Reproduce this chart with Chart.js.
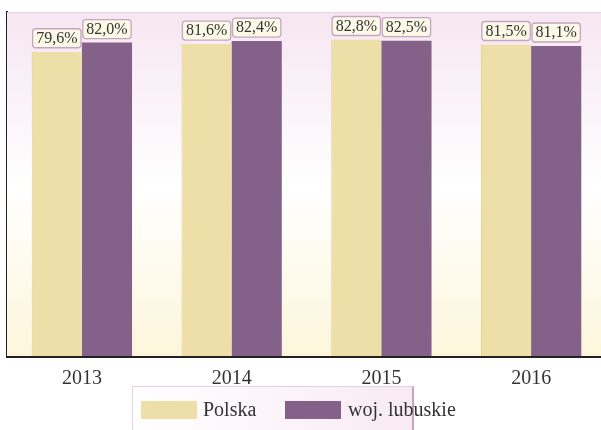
<!DOCTYPE html>
<html>
<head>
<meta charset="utf-8">
<script src="https://cdn.jsdelivr.net/npm/chart.js@4.4.1/dist/chart.umd.min.js"></script>
<style>
  html, body { margin: 0; padding: 0; background: #fff; overflow: hidden; }
  #wrap { position: relative; width: 601px; height: 430px; overflow: hidden; }
  #chart { position: absolute; left: 0; top: 0; }
  .legend {
    position: absolute; left: 132px; top: 386px; width: 279px; height: 50px;
    border: 1px solid #e6cfe3; border-right: 2px solid #c8a3c5;
    background: linear-gradient(to right, #ffffff, #f8eaf3);
    font-family: "Liberation Serif", "Times New Roman", serif; font-size: 20px; color: #333;
  }
  .legend .item { position: absolute; top: 14px; height: 18px; }
  .legend .sw { position: absolute; top: 0; width: 56px; height: 18px; }
  .legend .txt { position: absolute; top: -3px; white-space: nowrap; }
</style>
</head>
<body>
<div id="wrap">
  <canvas id="chart" width="606" height="430"></canvas>
  <div class="legend" id="legend"></div>
</div>
<script>
"use strict";

const years = ["2013", "2014", "2015", "2016"];
const polskaValues = [79.6, 81.6, 82.8, 81.5];
const lubuskieValues = [82.0, 82.4, 82.5, 81.1];
const seriesNames = ["Polska", "woj. lubuskie"];
const seriesColors = ["#eedfa9", "#846189"];

const serif = "'Liberation Serif', 'Times New Roman', serif";

// pink -> white -> cream wash behind the bars
const plotBackground = {
  id: "plotBackground",
  beforeDatasetsDraw(chart) {
    const { ctx, chartArea: a } = chart;
    const g = ctx.createLinearGradient(0, a.top, 0, a.bottom);
    g.addColorStop(0, "#f6e6f1");
    g.addColorStop(0.5, "#ffffff");
    g.addColorStop(1, "#fdf6dc");
    ctx.save();
    ctx.fillStyle = g;
    ctx.fillRect(a.left, a.top, a.right - a.left, a.bottom - a.top);
    ctx.strokeStyle = "#e8d2e3";
    ctx.lineWidth = 1;
    ctx.beginPath();
    ctx.moveTo(a.left, a.top + 0.5);
    ctx.lineTo(a.right, a.top + 0.5);
    ctx.stroke();
    ctx.restore();
  },
};

// boxed value label above each bar
const valueBoxes = {
  id: "valueBoxes",
  afterDatasetsDraw(chart) {
    const ctx = chart.ctx;
    ctx.save();
    ctx.font = "16px " + serif;
    ctx.textAlign = "center";
    ctx.textBaseline = "middle";
    chart.data.datasets.forEach((ds, di) => {
      chart.getDatasetMeta(di).data.forEach((bar, i) => {
        const text = ds.data[i].toFixed(1).replace(".", ",") + "%";
        const w = ctx.measureText(text).width + 7;
        const h = 19;
        const x = bar.x - w / 2;
        const y = bar.y - 4 - h;
        ctx.beginPath();
        ctx.roundRect(x, y, w, h, 3);
        ctx.fillStyle = "#fdf9e7";
        ctx.fill();
        ctx.lineWidth = 1.3;
        ctx.strokeStyle = "#c4a5c3";
        ctx.stroke();
        ctx.fillStyle = "#333";
        ctx.fillText(text, bar.x, y + h / 2 + 0.5);
      });
    });
    ctx.restore();
  },
};

const chart = new Chart(document.getElementById("chart"), {
  type: "bar",
  data: {
    labels: years,
    datasets: [
      { label: seriesNames[0], data: polskaValues, backgroundColor: seriesColors[0], borderColor: "#e3cf93", borderWidth: { left: 1 } },
      { label: seriesNames[1], data: lubuskieValues, backgroundColor: seriesColors[1], borderWidth: 0 },
    ],
  },
  options: {
    responsive: false,
    animation: false,
    layout: { padding: { left: 7, top: 12, right: 0, bottom: 28 } },
    datasets: { bar: { barPercentage: 1, categoryPercentage: 0.67 } },
    plugins: { legend: { display: false }, tooltip: { enabled: false } },
    scales: {
      x: {
        grid: { display: false, drawTicks: false },
        border: { color: "#222", width: 3 },
        ticks: { color: "#333", padding: 11, font: { family: serif, size: 20 } },
      },
      y: {
        min: 0,
        max: 90,
        grid: { display: false, drawTicks: false },
        border: { color: "#222", width: 2 },
        ticks: { display: false },
      },
    },
  },
  plugins: [plotBackground, valueBoxes],
});

// legend strip under the axis
const legendEl = document.getElementById("legend");
const legendPos = [{ sw: 8, txt: 70 }, { sw: 152, txt: 215 }];
seriesNames.forEach((name, i) => {
  const item = document.createElement("div");
  item.className = "item";
  item.innerHTML =
    '<div class="sw" style="left:' + legendPos[i].sw + 'px;background:' + seriesColors[i] + '"></div>' +
    '<div class="txt" style="left:' + legendPos[i].txt + 'px">' + name + "</div>";
  legendEl.appendChild(item);
});
</script>
</body>
</html>
